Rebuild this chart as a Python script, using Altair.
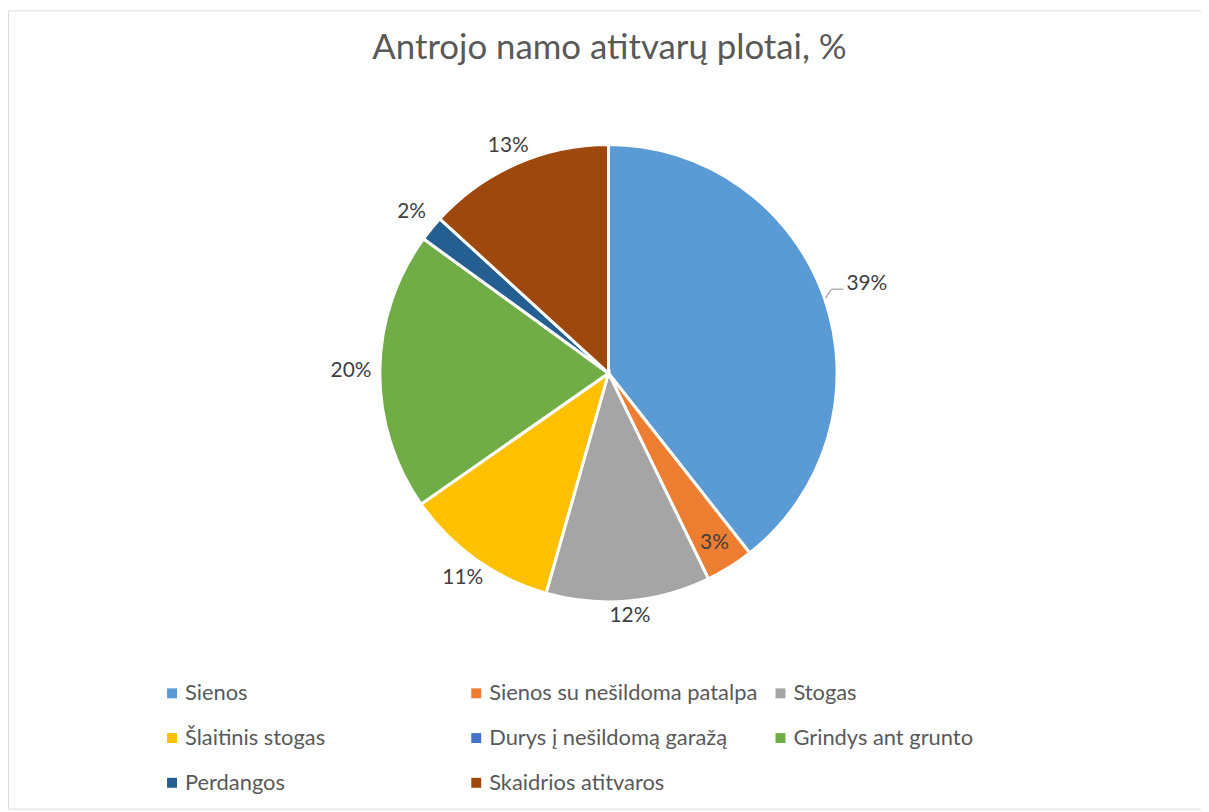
import altair as alt
import pandas as pd

categories = ["Sienos", "Sienos su nešildoma patalpa", "Stogas", "Šlaitinis stogas",
              "Durys į nešildomą garažą", "Grindys ant grunto", "Perdangos", "Skaidrios atitvaros"]
values = [39.4, 3.4, 11.6, 10.9, 0.0, 19.7, 1.8, 13.2]
colors = ["#5B9BD5", "#ED7D31", "#A5A5A5", "#FFC000", "#4472C4", "#70AD47", "#255E91", "#9E480E"]
title_text = "Antrojo namo atitvarų plotai, %"

df = pd.DataFrame({"cat": categories, "value": values, "idx": list(range(len(categories)))})

CX, CY, R = 604, 365, 230
FONT = "Lato"

color_enc = alt.Color(
    "cat:N",
    scale=alt.Scale(domain=categories, range=colors),
    sort=categories,
    legend=alt.Legend(
        title=None, orient="none", legendX=154, legendY=676, columns=3,
        direction="horizontal", symbolType="square", symbolSize=100,
        symbolStrokeWidth=0, labelFont=FONT, labelFontSize=22, labelColor="#595959",
        labelOffset=2, columnPadding=12, rowPadding=23, gridAlign="all",
        labelLimit=500, padding=0,
    ),
)

arcs = alt.Chart(df).mark_arc(outerRadius=R, stroke="white", strokeWidth=3).encode(
    theta=alt.Theta("value:Q", stack=True),
    color=color_enc,
    order=alt.Order("idx:Q"),
    x=alt.value(CX),
    y=alt.value(CY),
)

base = (
    alt.Chart(df)
    .transform_window(cum="sum(value)", sort=[{"field": "idx"}], frame=[None, 0])
    .transform_joinaggregate(total="sum(value)")
    .transform_calculate(mid="(datum.cum - datum.value/2) / datum.total * 2 * PI")
)

labels = base.transform_filter("datum.value > 0").transform_calculate(
    lr="datum.cat == 'Sienos su nešildoma patalpa' ? 201 : (datum.idx == 0 ? 275 : 244 + 15 * abs(sin(datum.mid)))",
    txt="format(datum.value / 100, '.0%')",
).transform_calculate(
    lx=f"{CX} + datum.lr * sin(datum.mid)",
    ly=f"{CY} - datum.lr * cos(datum.mid)",
).mark_text(font=FONT, fontSize=21, color="#404040").encode(
    x=alt.X("lx:Q", scale=None),
    y=alt.Y("ly:Q", scale=None),
    text="txt:N",
)

leader = base.transform_filter("datum.idx == 0").transform_calculate(
    sx=f"{CX} + 231 * sin(datum.mid)",
    sy=f"{CY} - 231 * cos(datum.mid)",
    ex="datum.sx + 6",
    ey="datum.sy - 9",
    fx="datum.sx + 18",
)
leader1 = leader.mark_rule(color="#A6A6A6", strokeWidth=1.3).encode(
    x=alt.X("sx:Q", scale=None), y=alt.Y("sy:Q", scale=None),
    x2="ex:Q", y2="ey:Q",
)
leader2 = leader.mark_rule(color="#A6A6A6", strokeWidth=1.3).encode(
    x=alt.X("ex:Q", scale=None), y=alt.Y("ey:Q", scale=None),
    x2="fx:Q", y2="ey:Q",
)

chart = (
    alt.layer(arcs, labels, leader1, leader2)
    .properties(
        width=1200, height=803,
        autosize=alt.AutoSizeParams(type="none"),
        padding=0,
        title=alt.TitleParams(
            title_text, font=FONT, fontSize=35, fontWeight="normal", color="#595959",
            anchor="middle", frame="group", offset=-84, baseline="alphabetic", dx=5,
        ),
    )
    .configure_view(stroke="#D9D9D9", strokeWidth=1.3)
    .configure(font=FONT)
)

chart.save("out.html", embed_options={"renderer": "svg", "actions": False})
